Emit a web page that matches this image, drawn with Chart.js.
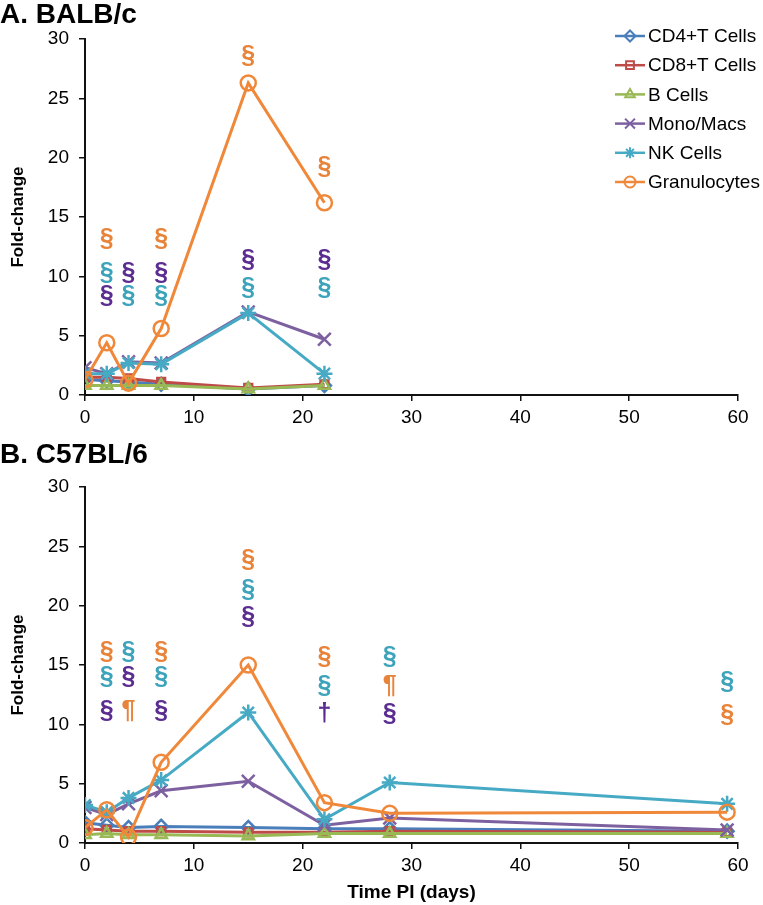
<!DOCTYPE html>
<html>
<head>
<meta charset="utf-8">
<script src="https://cdn.jsdelivr.net/npm/chart.js@4.4.0/dist/chart.umd.min.js"></script>
<style>
  body { margin: 0; background: #fff; }
  canvas { display: block; }
</style>
</head>
<body>
<canvas id="chart-a" width="763" height="430"></canvas>
<canvas id="chart-b" width="763" height="475"></canvas>
<script>
// series shared by both panels
const seriesNames = ['CD4+T Cells', 'CD8+T Cells', 'B Cells', 'Mono/Macs', 'NK Cells', 'Granulocytes'];
const seriesColors = ['#4A7EBB', '#BE4B48', '#98B954', '#7D60A0', '#46AAC5', '#F0883A'];
const pointStyles = ['rectRot', 'rect', 'triangle', 'crossRot', 'star', 'circle'];

// A. BALB/c
const daysA = [0, 2, 4, 7, 15, 22];
const cd4A = [1.3, 1.2, 1.1, 0.9, 0.5, 0.8];
const cd8A = [1.5, 1.5, 1.4, 1.1, 0.6, 0.9];
const bCellsA = [0.8, 0.8, 0.8, 0.8, 0.5, 0.8];
const monoA = [2.3, 1.8, 2.8, 2.7, 7.0, 4.7];
const nkA = [1.8, 1.8, 2.7, 2.6, 6.9, 1.8];
const granA = [1.3, 4.4, 1.0, 5.6, 26.3, 16.2];

// B. C57BL/6
const daysB = [0, 2, 4, 7, 15, 22, 28, 59];
const cd4B = [1.7, 1.5, 1.3, 1.4, 1.3, 1.2, 1.2, 1.0];
const cd8B = [1.2, 1.1, 1.0, 1.0, 0.9, 0.9, 1.0, 0.9];
const bCellsB = [0.7, 0.8, 0.7, 0.7, 0.6, 0.8, 0.8, 0.8];
const monoB = [3.0, 2.4, 3.3, 4.4, 5.2, 1.5, 2.1, 1.1];
const nkB = [3.2, 2.6, 3.8, 5.3, 11.0, 2.0, 5.1, 3.3];
const granB = [1.3, 2.8, 0.5, 6.8, 15.0, 3.4, 2.5, 2.6];

// significance marks: [day, fold-change level, symbol, group]
const marksA = [
  [2, 13.1, '§', 'gran'], [2, 10.3, '§', 'nk'], [2, 8.3, '§', 'mono'],
  [4, 10.3, '§', 'mono'], [4, 8.3, '§', 'nk'],
  [7, 13.1, '§', 'gran'], [7, 10.3, '§', 'mono'], [7, 8.3, '§', 'nk'],
  [15, 28.6, '§', 'gran'], [15, 11.4, '§', 'mono'], [15, 9.0, '§', 'nk'],
  [22, 19.2, '§', 'gran'], [22, 11.4, '§', 'mono'], [22, 9.0, '§', 'nk']
];
const marksB = [
  [2, 16.1, '§', 'gran'], [2, 14.0, '§', 'nk'], [2, 11.1, '§', 'mono'],
  [4, 16.1, '§', 'nk'], [4, 14.0, '§', 'mono'], [4, 11.1, '¶', 'gran'],
  [7, 16.1, '§', 'gran'], [7, 14.0, '§', 'nk'], [7, 11.1, '§', 'mono'],
  [15, 23.8, '§', 'gran'], [15, 21.3, '§', 'nk'], [15, 19.0, '§', 'mono'],
  [22, 15.7, '§', 'gran'], [22, 13.2, '§', 'nk'], [22, 10.9, '†', 'mono'],
  [28, 15.7, '§', 'nk'], [28, 13.2, '¶', 'gran'], [28, 10.9, '§', 'mono'],
  [59, 13.6, '§', 'nk'], [59, 10.8, '§', 'gran']
];
const markColors = { gran: '#E8843A', nk: '#3DA3BB', mono: '#5C2D91' };

const FONT = "'Liberation Sans', Arial, sans-serif";
const pointRadius = [6.5, 5.5, 6.5, 9, 8, 7.5];

function toPoints(days, vals) {
  return days.map(function(d, i) { return { x: d, y: vals[i] }; });
}

function drawMarker(ctx, i, x, y, r) {
  ctx.save();
  ctx.strokeStyle = seriesColors[i];
  ctx.fillStyle = 'rgba(255,255,255,0)';
  ctx.lineWidth = 2;
  Chart.helpers.drawPoint(ctx, { pointStyle: pointStyles[i], radius: r, borderWidth: 2, rotation: 0 }, x, y);
  ctx.restore();
}

// draws the significance symbols and (optionally) the legend box
const extrasPlugin = {
  id: 'extras',
  afterDatasetsDraw(chart, args, opts) {
    const ctx = chart.ctx;
    const xs = chart.scales.x, ys = chart.scales.y;
    ctx.save();
    ctx.font = 'bold 25px ' + FONT;
    ctx.textAlign = 'center';
    ctx.textBaseline = 'middle';
    (opts.marks || []).forEach(function(m) {
      ctx.fillStyle = markColors[m[3]];
      ctx.fillText(m[2], xs.getPixelForValue(m[0]), ys.getPixelForValue(m[1]));
    });
    if (opts.legend) {
      ctx.font = '19px ' + FONT;
      ctx.textAlign = 'left';
      seriesNames.forEach(function(name, i) {
        const y = 36 + i * 29.2;
        ctx.strokeStyle = seriesColors[i];
        ctx.lineWidth = 2.5;
        ctx.beginPath();
        ctx.moveTo(615, y);
        ctx.lineTo(645, y);
        ctx.stroke();
        drawMarker(ctx, i, 630, y, pointStyles[i] === 'crossRot' ? 7 : 5.5);
        ctx.fillStyle = '#000';
        ctx.fillText(name, 648, y + 1);
      });
    }
    ctx.restore();
  }
};

function makeChart(id, title, titlePad, xHeight, days, series, marks, showLegend, xTitle) {
  const datasets = series.map(function(vals, i) {
    return {
      label: seriesNames[i],
      data: toPoints(days, vals),
      borderColor: seriesColors[i],
      backgroundColor: 'rgba(255,255,255,0)',
      borderWidth: 3,
      pointStyle: pointStyles[i],
      pointRadius: pointRadius[i],
      pointBorderWidth: 2.5,
      pointBorderColor: seriesColors[i],
      pointBackgroundColor: 'rgba(255,255,255,0)',
      tension: 0,
      order: series.length - i
    };
  });

  return new Chart(document.getElementById(id), {
    type: 'line',
    data: { datasets: datasets },
    options: {
      responsive: false,
      animation: false,
      layout: { padding: { top: 0, right: 25, left: 0, bottom: 0 } },
      plugins: {
        legend: { display: false },
        tooltip: { enabled: false },
        title: {
          display: true,
          text: title,
          align: 'start',
          color: '#000',
          font: { family: FONT, size: 28, weight: 'bold', lineHeight: 1.0 },
          padding: titlePad
        },
        extras: { marks: marks, legend: showLegend }
      },
      scales: {
        x: {
          type: 'linear',
          min: 0, max: 60,
          afterFit: function(scale) { scale.height = xHeight; },
          ticks: { stepSize: 10, color: '#000', padding: 5, font: { family: FONT, size: 19 } },
          grid: { display: true, drawOnChartArea: false, color: '#111', tickLength: 6, lineWidth: 1.5 },
          border: { color: '#111', width: 2 },
          title: {
            display: !!xTitle,
            text: xTitle || '',
            color: '#000',
            font: { family: FONT, size: 19, weight: 'bold' },
            padding: { top: 0, bottom: 1 }
          }
        },
        y: {
          min: 0, max: 30,
          afterFit: function(scale) { scale.width = 85; },
          ticks: { stepSize: 5, color: '#000', padding: 10, font: { family: FONT, size: 19 } },
          grid: { display: true, drawOnChartArea: false, color: '#111', tickLength: 6, lineWidth: 1.5 },
          border: { color: '#111', width: 2 },
          title: {
            display: true,
            text: 'Fold-change',
            color: '#000',
            font: { family: FONT, size: 17, weight: 'bold' },
            padding: { top: 8, bottom: 0 }
          }
        }
      }
    },
    plugins: [extrasPlugin]
  });
}

makeChart('chart-a', 'A. BALB/c', { top: 1, bottom: 10 }, 35, daysA,
  [cd4A, cd8A, bCellsA, monoA, nkA, granA], marksA, true, null);
makeChart('chart-b', 'B. C57BL/6', { top: 11, bottom: 18 }, 62, daysB,
  [cd4B, cd8B, bCellsB, monoB, nkB, granB], marksB, false, 'Time PI (days)');
</script>
</body>
</html>
